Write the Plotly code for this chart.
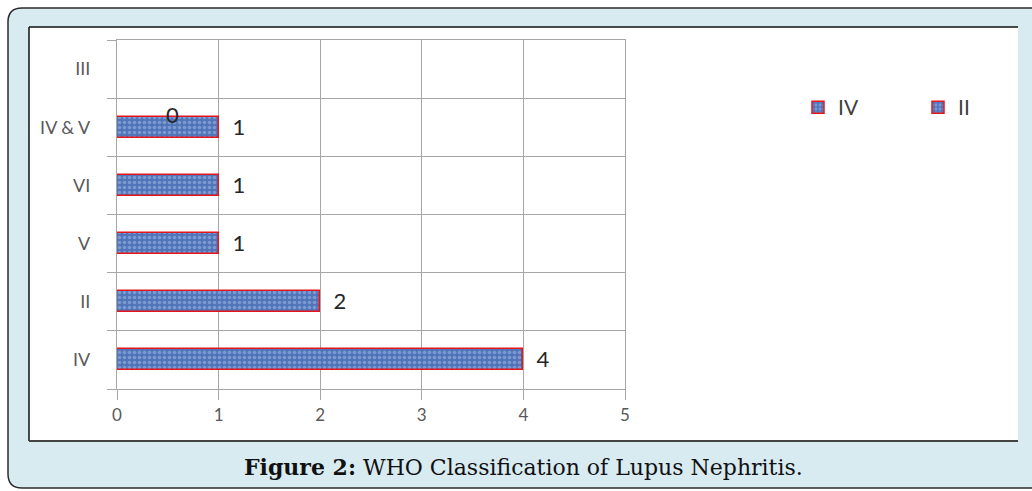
import plotly.graph_objects as go

categories = ["IV", "II", "V", "VI", "IV & V", "III"]
values = [4, 2, 1, 1, 1, 0]
legend_names = ["IV", "II"]
x_ticks = [0, 1, 2, 3, 4, 5]

W, H = 1032, 491
L, R, T, B = 117, 625, 40, 389  # plot area in px
pw, ph = R - L, B - T


def xp(px):
    return (px - L) / pw


def yp(py):
    return (B - py) / ph


ypos = list(range(len(categories)))
bar_text = ["  " + str(v) if v else "" for v in values]

bar_marker = dict(color="#4f74b9", line=dict(color="#e3161d", width=1.5),
                  pattern=dict(shape=".", fgcolor="#a9c0e6", size=5, solidity=0.4))

fig = go.Figure()
fig.add_trace(go.Bar(
    x=values, y=ypos, orientation="h", name=legend_names[0], width=0.36,
    marker=bar_marker, text=bar_text, textposition="outside", cliponaxis=False,
    constraintext="none", hoverinfo="skip",
    textfont=dict(family="Lato", size=22, color="#262626"),
))
fig.add_trace(go.Bar(
    x=[None] * len(categories), y=ypos, orientation="h", name=legend_names[1], width=0.36,
    marker=bar_marker, hoverinfo="skip",
))

grid = "#a6a6a6"

# outer rounded frame
r = 14
x0, y0, x1, y1 = 8, 8, 1060, 488
path = (f"M {xp(x0)},{yp(y0 + r)} Q {xp(x0)},{yp(y0)} {xp(x0 + r)},{yp(y0)} "
        f"L {xp(x1)},{yp(y0)} L {xp(x1)},{yp(y1)} L {xp(x0 + r)},{yp(y1)} "
        f"Q {xp(x0)},{yp(y1)} {xp(x0)},{yp(y1 - r)} Z")
shapes = [
    dict(type="path", path=path, xref="paper", yref="paper", layer="below",
         fillcolor="#d8ebf1", line=dict(color="#2b2b2b", width=1.5)),
    dict(type="rect", xref="paper", yref="paper", layer="below",
         x0=xp(29), x1=xp(1018), y0=yp(441), y1=yp(27),
         fillcolor="white", line=dict(width=0)),
    dict(type="line", xref="paper", yref="paper", layer="below",
         x0=xp(29), x1=xp(29), y0=yp(441), y1=yp(27), line=dict(color="#111", width=1.5)),
    dict(type="line", xref="paper", yref="paper", layer="below",
         x0=xp(29), x1=xp(1018), y0=yp(27), y1=yp(27), line=dict(color="#111", width=1.5)),
    dict(type="line", xref="paper", yref="paper", layer="below",
         x0=xp(29), x1=xp(1018), y0=yp(441), y1=yp(441), line=dict(color="#444", width=2)),
]

annotations = [
    dict(xref="x", yref="y", x=0.55, y=4.22, text=str(values[5]), showarrow=False,
         font=dict(family="Lato", size=22, color="#262626")),
    dict(xref="paper", yref="paper", x=xp(523), y=yp(467),
         text="<b>Figure 2:</b> WHO Classification of Lupus Nephritis.", showarrow=False,
         font=dict(family="DejaVu Serif", size=22, color="#111"),
         xanchor="center", yanchor="middle"),
]

fig.update_layout(
    width=W, height=H, margin=dict(l=L, r=W - R, t=T, b=H - B, autoexpand=False),
    paper_bgcolor="white", plot_bgcolor="rgba(0,0,0,0)",
    barmode="overlay", bargap=0,
    shapes=shapes, annotations=annotations,
    legend=dict(orientation="h", x=xp(798), y=yp(87), xanchor="left", yanchor="top",
                entrywidth=75, entrywidthmode="pixels", bgcolor="rgba(0,0,0,0)",
                font=dict(family="Lato", size=21, color="#404040")),
    xaxis=dict(range=[0, 5], tickmode="array", tickvals=x_ticks, showgrid=True,
               gridcolor=grid, gridwidth=1.3, zeroline=False, showline=True, mirror=True,
               linecolor=grid, linewidth=1.3, ticks="outside", ticklen=10, tickcolor=grid,
               tickwidth=1.3, tickfont=dict(family="Lato", size=17, color="#595959")),
    yaxis=dict(range=[-0.5, 5.5], tickmode="array", tickvals=ypos, ticktext=categories,
               showgrid=False, zeroline=False, showline=True, mirror=True, linecolor=grid,
               linewidth=1.3, ticks="", ticklabelstandoff=22,
               tickfont=dict(family="Lato", size=18, color="#595959"),
               minor=dict(tickmode="linear", tick0=-0.5, dtick=1, showgrid=True,
                          gridcolor=grid, gridwidth=1.3, ticks="outside", ticklen=9,
                          tickcolor=grid, tickwidth=1.3)),
)

fig.write_html(
    "out.html",
    config={"displayModeBar": False},
    post_script="document.body.style.margin='0';document.body.style.overflow='hidden';",
)
